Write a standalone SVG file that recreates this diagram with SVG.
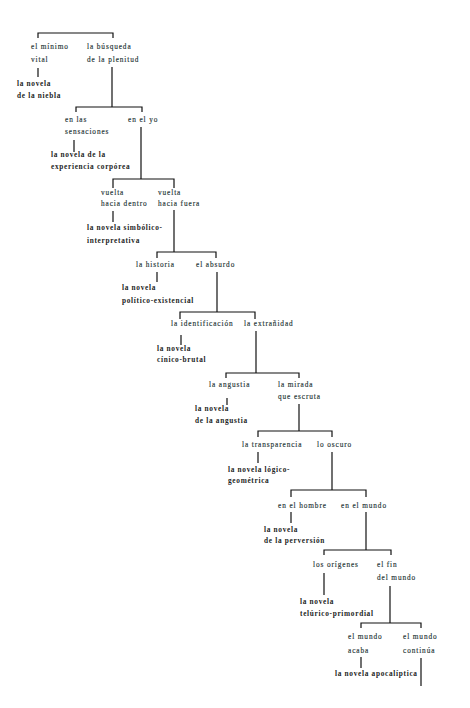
<svg xmlns="http://www.w3.org/2000/svg" width="470" height="708" viewBox="0 0 470 708">
<style>
.t{font-family:"Liberation Serif","DejaVu Serif",serif;font-size:7.3px;letter-spacing:0.9px;fill:#263636;stroke:#263636;stroke-width:0.15px}
.b{font-family:"Liberation Serif","DejaVu Serif",serif;font-size:7.3px;letter-spacing:0.7px;font-weight:bold;fill:#1c2424}
.c{fill:none;stroke:#111;stroke-width:1.2}
</style>
<rect width="470" height="708" fill="#fff"/>
<g id="connectors" class="c">
<path d="M38,38 V33 H113 V38"/>
<path d="M38,68 V77"/>
<path d="M112,67 V107"/>
<path d="M76,112 V107 H142 V112"/>
<path d="M74,140 V152"/>
<path d="M141,127 V179"/>
<path d="M113,188 V179 H174 V188"/>
<path d="M113,211 V222"/>
<path d="M174,210 V252"/>
<path d="M157,258 V252 H216 V258"/>
<path d="M157,272 V282"/>
<path d="M217,272 V312"/>
<path d="M180,319 V312 H255 V319"/>
<path d="M181,335 V345"/>
<path d="M256,331 V373"/>
<path d="M226,378 V373 H299 V378"/>
<path d="M227,398 V405"/>
<path d="M299,404 V431"/>
<path d="M258,437 V431 H332 V437"/>
<path d="M258,452 V463"/>
<path d="M332,452 V490"/>
<path d="M291,497 V490 H366 V497"/>
<path d="M291,512 V523"/>
<path d="M366,512 V550"/>
<path d="M324,555 V550 H391 V555"/>
<path d="M324,573 V595"/>
<path d="M390,586 V623"/>
<path d="M361,628 V623 H421 V628"/>
<path d="M361,657 V668"/>
<path d="M421,658 V686"/>
</g>
<g id="n-minimo"><text class="t" x="31" y="49">el mínimo</text><text class="t" x="31" y="62">vital</text></g>
<g id="n-busqueda"><text class="t" x="87" y="49">la búsqueda</text><text class="t" x="87" y="62">de la plenitud</text></g>
<g id="n-niebla"><text class="b" x="17" y="86">la novela</text><text class="b" x="17" y="98">de la niebla</text></g>
<g id="n-sensaciones"><text class="t" x="65" y="122">en las</text><text class="t" x="65" y="134">sensaciones</text></g>
<g id="n-yo"><text class="t" x="128" y="122">en el yo</text></g>
<g id="n-corporea"><text class="b" x="51" y="157">la novela de la</text><text class="b" x="51" y="169">experiencia corpórea</text></g>
<g id="n-dentro"><text class="t" x="101" y="195">vuelta</text><text class="t" x="101" y="206">hacia dentro</text></g>
<g id="n-fuera"><text class="t" x="158" y="195">vuelta</text><text class="t" x="158" y="206">hacia fuera</text></g>
<g id="n-simbolico"><text class="b" x="87" y="230">la novela simbólico-</text><text class="b" x="87" y="243">interpretativa</text></g>
<g id="n-historia"><text class="t" x="136" y="267">la historia</text></g>
<g id="n-absurdo"><text class="t" x="196" y="267">el absurdo</text></g>
<g id="n-politico"><text class="b" x="122" y="290">la novela</text><text class="b" x="122" y="303">político-existencial</text></g>
<g id="n-identificacion"><text class="t" x="171" y="326">la identificación</text></g>
<g id="n-extranidad"><text class="t" x="244" y="326">la extrañidad</text></g>
<g id="n-cinico"><text class="b" x="157" y="351">la novela</text><text class="b" x="157" y="362">cínico-brutal</text></g>
<g id="n-angustia"><text class="t" x="209" y="387">la angustia</text></g>
<g id="n-mirada"><text class="t" x="278" y="387">la mirada</text><text class="t" x="278" y="399">que escruta</text></g>
<g id="n-nov-angustia"><text class="b" x="195" y="411">la novela</text><text class="b" x="195" y="423">de la angustia</text></g>
<g id="n-transparencia"><text class="t" x="242" y="447">la transparencia</text></g>
<g id="n-oscuro"><text class="t" x="317" y="447">lo oscuro</text></g>
<g id="n-logico"><text class="b" x="228" y="472">la novela lógico-</text><text class="b" x="228" y="483">geométrica</text></g>
<g id="n-hombre"><text class="t" x="278" y="508">en el hombre</text></g>
<g id="n-mundo"><text class="t" x="341" y="508">en el mundo</text></g>
<g id="n-perversion"><text class="b" x="264" y="532">la novela</text><text class="b" x="264" y="543">de la perversión</text></g>
<g id="n-origenes"><text class="t" x="313" y="567">los orígenes</text></g>
<g id="n-fin"><text class="t" x="377" y="567">el fin</text><text class="t" x="377" y="580">del mundo</text></g>
<g id="n-telurico"><text class="b" x="300" y="604">la novela</text><text class="b" x="300" y="616">telúrico-primordial</text></g>
<g id="n-acaba"><text class="t" x="348" y="639">el mundo</text><text class="t" x="348" y="653">acaba</text></g>
<g id="n-continua"><text class="t" x="403" y="639">el mundo</text><text class="t" x="403" y="653">continúa</text></g>
<g id="n-apocaliptica"><text class="b" x="335" y="676">la novela apocalíptica</text></g>
</svg>
